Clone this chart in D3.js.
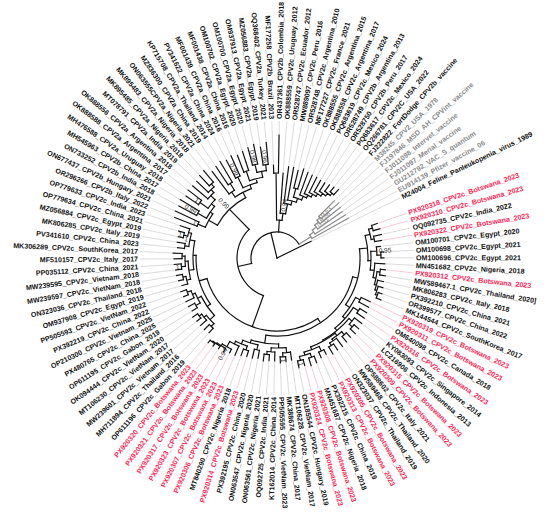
<!DOCTYPE html>
<html>
<head>
<meta charset="utf-8">
<script src="https://cdn.jsdelivr.net/npm/d3@7"></script>
<style>
  html, body { margin: 0; padding: 0; background: #fff; }
  text { font-family: "Liberation Sans", Arial, sans-serif; }
</style>
</head>
<body>
<div id="tree"></div>
<script>
// tip labels, clockwise, starting just below the outgroup
var tipNames = [
  'PX920318_CPV2c_Botswana_2023', 'PX920310_CPV2c_Botswana_2023', 'OQ092735_CPV2c_India_2022',
  'PX920322_CPV2c_Botswana_2023', 'OM100701_CPV2c_Egypt_2020', 'OM100698_CPV2c_Egypt_2021',
  'OM100696_CPV2c_Egypt_2021', 'MN451682_CPV2c_Nigeria_2018', 'PX920312_CPV2c_Botswana_2023',
  'MW589467.1_CPV2c_Thailand_2020]', 'MK806283_CPV2c_Italy_2018', 'PX392210_CPV2c_China_2021',
  'OR399577_CPV2c_China_2022', 'MK144544_CPV2c_SouthKorea_2017', 'PX920319_CPV2c_Botswana_2023',
  'PX920311_CPV2c_Botswana_2023', 'OM640098_CPV2c_Canada_2018', 'PX920316_CPV2c_Botswana_2023',
  'KY083093_CPV2c_Singapore_2014', 'LC216906_CPV2c_Indonesia_2013', 'PX920315_CPV2c_Botswana_2023',
  'PX920309_CPV2c_Botswana_2023', 'OP588602_CPV2c_Italy_2021', 'MW589468_CPV2c_Thailand_2020',
  'ON323037_CPV2c_Thailand_2019', 'PX920305_CPV2c_Botswana_2023', 'PX920313_CPV2c_Botswana_2023',
  'PX392215_CPV2c_China_2019', 'MN451687_CPV2c_Nigeria_2018', 'PX920308_CPV2c_Botswana_2023',
  'PX920324_CPV2c_Botswana_2023', 'ON185544_CPV2c_Hungary_2019', 'MT106228_CPV2c_VietNam_2017',
  'MK388674_CPV2c_China_2017', 'PP505595_CPV2c_VietNam_2023', 'KT162014_CPV2c_China_2014',
  'OQ092725_CPV2c_India_2021', 'ON063561_CPV2c_Nigeria_2021', 'ON063547_CPV2c_Nigeria_2020',
  'PX392195_CPV2c_China_2020', 'PX920314_CPV2c_Botswana_2023', 'MT840290_CPV2c_Nigeria_2018',
  'PX920306_CPV2c_Botswana_2023', 'PX920307_CPV2c_Botswana_2023', 'PX920323_CPV2c_Botswana_2023',
  'PX920317_CPV2c_Botswana_2023', 'PX920321_CPV2c_Botswana_2023', 'PX920320_CPV2c_Botswana_2023',
  'OP611196_CPV2c_Gabon_2019', 'MH711894_CPV2c_Thailand_2016', 'MW239601_CPV2c_Vietnam_2017',
  'MT106230_CPV2c_VietNam_2017', 'OK094444_CPV2c_VietNam_2020', 'OP611195_CPV2c_Gabon_2019',
  'PX480765_CPV2c_China_2025', 'OP210300_CPV2c_Vietnam_2025', 'PX392219_CPV2c_China_2022',
  'PP505593_CPV2c_VietNam_2022', 'OM937908_CPV2c_Egypt_2019', 'ON323036_CPV2c_Thailand_2018',
  'MW239597_CPV2c_VietNam_2018', 'MW239595_CPV2c_Vietnam_2018', 'PP035112_CPV2c_China_2021',
  'MF510157_CPV2c_Italy_2017', 'MK306289_CPV2c_SouthKorea_2017', 'PV341610_CPV2c_China_2023',
  'MK806285_CPV2c_Italy_2019', 'MZ056884_CPV2c_Egypt_2019', 'OP779634_CPV2c_China_2021',
  'OP779633_CPV2c_India_2023', 'OR296266_CPV2b_Italy_2022', 'ON677437_CPV2b_Hungary_2021',
  'ON733252_CPV2b_India_2018', 'MH545963_CPV2b_China_2017', 'MH476588_CPV2a_Uruguay_2018',
  'OK888588_CPV2a_Argentina_2017', 'OK888556_CPV2a_Argentina_2018', 'MT078791_CPV2a_India_2019',
  'MK895485_CPV2a_Nigeria_2018', 'MK895483_CPV2a_Nigeria_2018', 'ON063555CPV2a_Nigeria_2021',
  'MZ836300_CPV2a_China_2019', 'KP715708_CPV2a_Thailand_2014', 'PV341622_CPV2a_China_2024',
  'MF001439_CPV2a_China_2016', 'MF001438_CPV2a_China_2016', 'OM100702_CPV2a_Egypt_2020',
  'OM100700_CPV2a_Egypt_2020', 'OM937913_CPV2a_Egypt_2021', 'MZ056883_CPV2a_Egypt_2019',
  'OQ368402_CPV2a_Turkey_2021', 'MF177258_CPV2b_Brazil_2013', 'OR437361_CPV2b_Colombia_2018',
  'OK888559_CPV2c_Uruguay_2012', 'OR528747_CPV2c_Ecuador_2012', 'MW889097_CPV2c_Peru_2016',
  'OR528748_CPV2c_Argentina_2010', 'MF177227_CPV2c_France_2021', 'OK888555_CPV2c_Argentina_2015',
  'OK888558_CPV2c_Argentina_2017', 'PQ683619_CPV2c_Mexico_2024', 'OR528749_CPV2b_Argentina_2013',
  'OR528750_CPV2b_Peru_2017', 'PQ683617_CPV2c_Mexico_2024', 'OQ266781_CPV2C_USA_2022',
  'FJ222822_FortDodge_CPV2b_vaccine', 'M38245_CPV2_USA_1978', 'FJ197846_MSD_AH_CPVint_vaccine',
  'FJ011098_Intervet_vaccine', 'FJ011097_Merial_vaccine', 'GU212792_VAC_S_quantum',
  'EU914139_Pfizer_vaccine_06', 'M24004_Feline_Panleukopenia_virus_1989'
];

// reference / vaccine strains drawn in grey
var refStrains = [
  'M38245_CPV2_USA_1978', 'FJ197846_MSD_AH_CPVint_vaccine', 'FJ011098_Intervet_vaccine',
  'FJ011097_Merial_vaccine', 'GU212792_VAC_S_quantum', 'EU914139_Pfizer_vaccine_06'
];

// subtrees in newick form: tips are indexes into tipNames, branch lengths in 1e-4 subs/site,
// internal labels are the bootstrap supports
var cladeR1 = '(((0:6,1:7):4,(2:8,3:7):3):5,((4:4,(5:3,6:3):4)0.95:6,(7:10,((8:5,9:6):3,(10:6,(11:5,(12:4,13:5):2):2):2):3):4):3)';
var cladeR2 = '((14:10,15:11):5,((16:8,17:9):6,((18:9,(19:6,20:7):4):4,(((21:6,22:7):4,(23:10,(24:7,25:8):3):2):3,((26:5,27:6):5,((28:7,29:8):4,(30:6,31:7)1:4):3):3):1):3):3)';
var cladeB1 = '(((32:8,(33:5,34:6)1:4):5,(35:9,(36:6,37:7):3):4):4,((38:8,39:9):5,((40:6,41:7):4,(42:10,(43:4,(44:4,(45:3,(46:3,47:3):1):1):2)0.94:6):3):4):3)';
var cladeL1 = '((((48:6,49:7):4,(50:8,(51:5,52:6):3):3):6,((53:6,54:7):5,(55:9,(56:5,57:6):4):3):4):4,(((58:6,(59:5,60:6):3):4,((61:6,62:7)1:4,(63:8,64:9):3):3):5,((65:7,66:8):4,((67:5,68:6)1:4,69:10):3)1:5):3)';
var cladeABa = '((70:24,71:26)1:8,((72:20,73:22)0.99:10,((74:15,75:17)1:10,(76:20,(77:16,(78:14,79:15):4):4):6):4):3)';
var cladeABb = '((80:28,(81:22,82:24):8):6,((83:20,84:22)0.99:12,((85:18,86:20):10,((87:18,88:20)0.98:8,(89:18,90:22)0.96:6):6):4):4)';
var cladeTop = '(91:8,92:38)';
var cladeAM = '(93:40,(94:37,(95:33,((96:18,97:21):9,(98:24,(99:20,(100:17,(101:13,(102:10,(103:8,(104:6,105:7):3):3):3):3):3):3):4):4):4)';
var cladeVac = '(((((106:22,107:24)0.53:4,108:26)0.56:5,109:30)0.51:5,110:36):5,111:42)';

var cladeC2c = '(((' + cladeR1 + ':8,' + cladeR2 + ':5):5,' + cladeB1 + ':8):5,' + cladeL1 + ':8)';
var cladeAB = '(' + cladeABa + ':10,' + cladeABb + ':6)0.99';
var cladeN1 = '((' + cladeC2c + ':33,' + cladeAB + ':28):14,(' + cladeTop + ':47,' + cladeAM + ':10)0.94:7)';
var treeStr = '((' + cladeN1 + ':12,' + cladeVac + ':14):26,112:38);';

function parseNewick(s) {
  var i = 0;
  function node() {
    var n = { children: null, name: '', length: 0 };
    if (s[i] === '(') {
      n.children = [];
      i++;
      n.children.push(node());
      while (s[i] === ',') { i++; n.children.push(node()); }
      i++;
    }
    var start = i;
    while (i < s.length && ':,);'.indexOf(s[i]) < 0) i++;
    n.name = s.slice(start, i);
    if (s[i] === ':') {
      i++;
      start = i;
      while (i < s.length && ',);'.indexOf(s[i]) < 0) i++;
      n.length = +s.slice(start, i);
    }
    return n;
  }
  return node();
}

var width = 550, height = 516,
  cx = 277, cy = 258,
  labelR = 139;

var svg = d3.select('#tree')
  .append('svg')
  .attr('width', width)
  .attr('height', height)
  .style('background', '#fff');

var root = d3.hierarchy(parseNewick(treeStr), function(d) { return d.children; });
root.eachBefore(function(d) { d.dist = d.parent ? d.parent.dist + d.data.length : 0; });
root.eachAfter(function(d) {
  d.pos = d.children ? d3.mean(d.children, function(c) { return c.pos; }) : +d.data.name;
});

var angle = d3.scaleLinear().domain([0, tipNames.length - 1]).range([-19, 334]);
var radius = d3.scaleLinear().domain([0, 130]).range([0, 130]);

var refSet = new Set(refStrains);
function tipName(d) { return tipNames[+d.data.name]; }
function isRef(d) { return d.leaves().every(function(l) { return refSet.has(tipName(l)); }); }
function rad(deg) { return deg * Math.PI / 180; }
function pt(r, deg) { return [cx + r * Math.cos(rad(deg)), cy + r * Math.sin(rad(deg))]; }
function flipped(deg) { var a = ((deg % 360) + 360) % 360; return a > 90 && a < 270; }
function tipColor(d) {
  var n = tipName(d);
  if (n.indexOf('Botswana') >= 0) return '#ff1f55';
  if (refSet.has(n)) return '#8a8a8a';
  return '#111';
}

function edgePath(d) {
  var p = d3.path(), a = angle(d.pos);
  if (d.parent) {
    var p0 = pt(radius(d.parent.dist), a), p1 = pt(radius(d.dist), a);
    p.moveTo(p0[0], p0[1]);
    p.lineTo(p1[0], p1[1]);
  }
  if (d.children && d.dist > 0) {
    var a0 = angle(d.children[0].pos), a1 = angle(d.children[d.children.length - 1].pos),
      r = radius(d.dist), s = pt(r, a0);
    p.moveTo(s[0], s[1]);
    p.arc(cx, cy, r, rad(a0), rad(a1));
  }
  return p.toString();
}

// guides from tips to labels
svg.append('g')
  .selectAll('line')
  .data(root.leaves())
  .join('line')
  .attr('x1', function(d) { return pt(radius(d.dist) + 1, angle(d.pos))[0]; })
  .attr('y1', function(d) { return pt(radius(d.dist) + 1, angle(d.pos))[1]; })
  .attr('x2', function(d) { return pt(labelR - 2, angle(d.pos))[0]; })
  .attr('y2', function(d) { return pt(labelR - 2, angle(d.pos))[1]; })
  .attr('stroke', function(d) { return tipColor(d) === '#ff1f55' ? '#f6bccb' : '#d2d2d2'; })
  .attr('stroke-width', 0.8);

// branches
svg.append('g')
  .selectAll('path')
  .data(root.descendants())
  .join('path')
  .attr('d', edgePath)
  .attr('fill', 'none')
  .attr('stroke', function(d) { return isRef(d) ? '#8a8a8a' : '#111'; })
  .attr('stroke-width', 1.2)
  .attr('stroke-linecap', 'square');

// bootstrap supports
svg.append('g')
  .selectAll('text')
  .data(root.descendants().filter(function(d) { return d.children && d.data.name; }))
  .join('text')
  .attr('transform', function(d) {
    var a = angle(d.pos), p = pt(radius(d.dist) + 2, a);
    return 'translate(' + p + ') rotate(' + (flipped(a) ? a + 180 : a) + ')';
  })
  .attr('text-anchor', function(d) { return flipped(angle(d.pos)) ? 'end' : 'start'; })
  .attr('dy', '0.35em')
  .style('font-size', '6.5px')
  .style('fill', function(d) { return isRef(d) ? '#8a8a8a' : '#333'; })
  .text(function(d) { return d.data.name; });

// tip labels
svg.append('g')
  .selectAll('text')
  .data(root.leaves())
  .join('text')
  .attr('transform', function(d) {
    var a = angle(d.pos), p = pt(labelR, a);
    return 'translate(' + p + ') rotate(' + (flipped(a) ? a + 180 : a) + ')';
  })
  .attr('text-anchor', function(d) { return flipped(angle(d.pos)) ? 'end' : 'start'; })
  .attr('dy', '0.35em')
  .style('font-size', '7.1px')
  .style('font-weight', 'bold')
  .style('fill', tipColor)
  .text(tipName);
</script>
</body>
</html>
